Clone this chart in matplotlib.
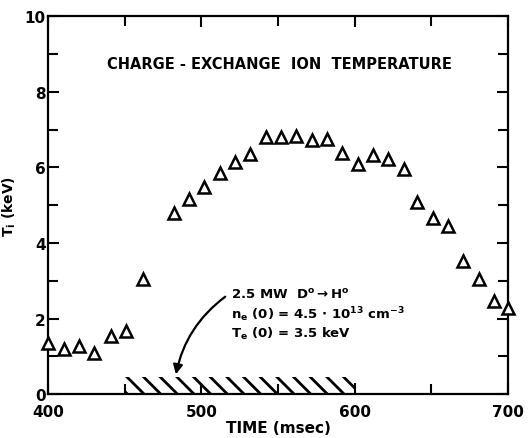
import matplotlib
matplotlib.use("Agg")
import matplotlib.pyplot as plt

# charge-exchange ion temperature readings
time_ms = [400, 410, 420, 430, 441, 451, 462,
           482, 492, 502, 512, 522, 532, 542, 552, 562, 572, 582, 592, 602,
           612, 622, 632, 641, 651, 661, 671, 681, 691, 700]
ti_kev = [1.35, 1.18, 1.26, 1.08, 1.53, 1.68, 3.05,
          4.8, 5.15, 5.47, 5.84, 6.13, 6.34, 6.79, 6.79, 6.84, 6.71, 6.76, 6.37, 6.1,
          6.32, 6.21, 5.95, 5.08, 4.66, 4.45, 3.53, 3.05, 2.45, 2.29]

# neutral beam injection window
beam_start = 450
beam_end = 600
beam_height = 0.45

plt.rcParams['hatch.linewidth'] = 2.0
plt.rcParams['font.weight'] = 'bold'

fig = plt.figure(figsize=(5.3, 4.39), dpi=100)
ax = fig.add_axes([0.091, 0.10, 0.867, 0.861])

ax.plot(time_ms, ti_kev, linestyle='none', marker='^', markersize=8,
        markerfacecolor='white', markeredgecolor='black', markeredgewidth=1.8,
        clip_on=False, zorder=3)

ax.bar(beam_start, beam_height, width=beam_end - beam_start, align='edge',
       fill=False, hatch='\\\\', linewidth=0, edgecolor='black')

ax.set_xlim(400, 700)
ax.set_ylim(0, 10)
ax.set_xticks([400, 500, 600, 700])
ax.set_xticks([450, 550, 650], minor=True)
ax.set_yticks([0, 2, 4, 6, 8, 10])
ax.set_yticks([1, 3, 5, 7, 9], minor=True)
ax.tick_params(which='both', direction='in', top=True, right=True,
               width=1.5, labelsize=11)
ax.tick_params(which='major', length=8)
ax.tick_params(which='minor', length=7)
ax.tick_params(axis='x', pad=7)
ax.tick_params(axis='y', pad=2)
for s in ax.spines.values():
    s.set_linewidth(1.6)

ax.set_xlabel('TIME (msec)', fontsize=11, labelpad=1, fontweight='bold')
ax.set_ylabel('T$_\\mathbf{i}$ (keV)', fontsize=10, fontweight='bold')
ax.yaxis.set_label_coords(-0.065, 0.5)

ax.text(551, 8.74, 'CHARGE - EXCHANGE  ION  TEMPERATURE', ha='center', va='center',
        fontsize=10.5)

ax.text(519, 2.66, '2.5 MW  D$^\\mathbf{o}$$\\rightarrow$H$^\\mathbf{o}$',
        ha='left', va='center', fontsize=9.5)
ax.text(519, 2.13, 'n$_\\mathbf{e}$ (0) = 4.5 $\\cdot$ 10$^{\\mathbf{13}}$ cm$^{\\mathbf{-3}}$',
        ha='left', va='center', fontsize=9.5)
ax.text(519, 1.63, 'T$_\\mathbf{e}$ (0) = 3.5 keV',
        ha='left', va='center', fontsize=9.5)

ax.annotate('', xy=(483, 0.45), xytext=(517, 2.62),
            arrowprops=dict(arrowstyle='-|>', color='black', lw=1.6,
                            mutation_scale=14,
                            connectionstyle='arc3,rad=0.2'))

fig.savefig('out.png', dpi=100)
